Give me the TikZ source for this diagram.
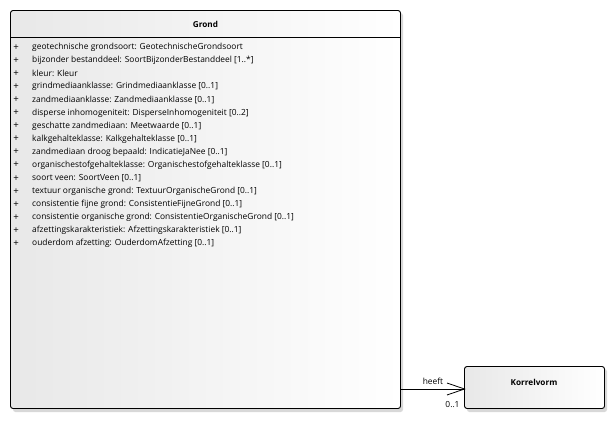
\documentclass[tikz,border=0pt]{standalone}
\usepackage{fontspec}
\setmainfont{Open Sans}
\definecolor{boxgrey}{HTML}{E8E8E8}
\definecolor{shadowgrey}{HTML}{D8D8D8}
\begin{document}
\begin{tikzpicture}[x=1pt,y=-1pt,
  umlbox/.style={draw=black, line width=0.9pt, rounded corners=2.5pt, left color=boxgrey, right color=white},
  umlshadow/.style={fill=shadowgrey, rounded corners=2.5pt, draw=none},
  attr/.style={anchor=west, inner sep=0pt, font=\fontsize{8.4}{10}\selectfont},
  plus/.style={anchor=center, inner sep=0pt, font=\fontsize{9.6}{10}\selectfont},
  title/.style={inner sep=0pt, font=\fontsize{8.2}{10}\selectfont\bfseries},
  lbl/.style={inner sep=0pt, font=\fontsize{8.4}{10}\selectfont}]
\useasboundingbox (0,0) rectangle (615,420);
\fill[white] (0,0) rectangle (615,420);
% shadows
\path[umlshadow] (13,13) rectangle (403,412);
\path[umlshadow] (467,369) rectangle (607,412);
% Grond class
\path[umlbox] (10.5,10.5) rectangle (400.5,408.5);
\coordinate (grondR) at (400.5,389);
\draw[line width=0.9pt] (10.5,37) -- (400.5,37);
\node[title] (grondT) at (205.5,24) {Grond};
\foreach \i/\t in {
 0/{geotechnische grondsoort: GeotechnischeGrondsoort},
 1/{bijzonder bestanddeel: SoortBijzonderBestanddeel [1..*]},
 2/{kleur: Kleur},
 3/{grindmediaanklasse: Grindmediaanklasse [0..1]},
 4/{zandmediaanklasse: Zandmediaanklasse [0..1]},
 5/{disperse inhomogeniteit: DisperseInhomogeniteit [0..2]},
 6/{geschatte zandmediaan: Meetwaarde [0..1]},
 7/{kalkgehalteklasse: Kalkgehalteklasse [0..1]},
 8/{zandmediaan droog bepaald: IndicatieJaNee [0..1]},
 9/{organischestofgehalteklasse: Organischestofgehalteklasse [0..1]},
 10/{soort veen: SoortVeen [0..1]},
 11/{textuur organische grond: TextuurOrganischeGrond [0..1]},
 12/{consistentie fijne grond: ConsistentieFijneGrond [0..1]},
 13/{consistentie organische grond: ConsistentieOrganischeGrond [0..1]},
 14/{afzettingskarakteristiek: Afzettingskarakteristiek [0..1]},
 15/{ouderdom afzetting: OuderdomAfzetting [0..1]}} {
  \node[plus] (p\i) at (16,47.5+13.07*\i) {+};
  \node[attr] (a\i) at (32,47.5+13.07*\i) {\t};
}
% Korrelvorm class
\path[umlbox] (464.5,366.5) rectangle (604.5,408.5);
\node[title] (korrel) at (534,382.5) {Korrelvorm};
\coordinate (korrelL) at (464.5,389);
% association
\draw[line width=0.8pt] (grondR) -- (korrelL);
\draw[line width=0.8pt] (447,383) -- (korrelL) -- (447,395);
\node[lbl] (heeft) at (433,381.5) {heeft};
\node[lbl] (mult) at (452.5,405) {0..1};
\end{tikzpicture}
\end{document}
